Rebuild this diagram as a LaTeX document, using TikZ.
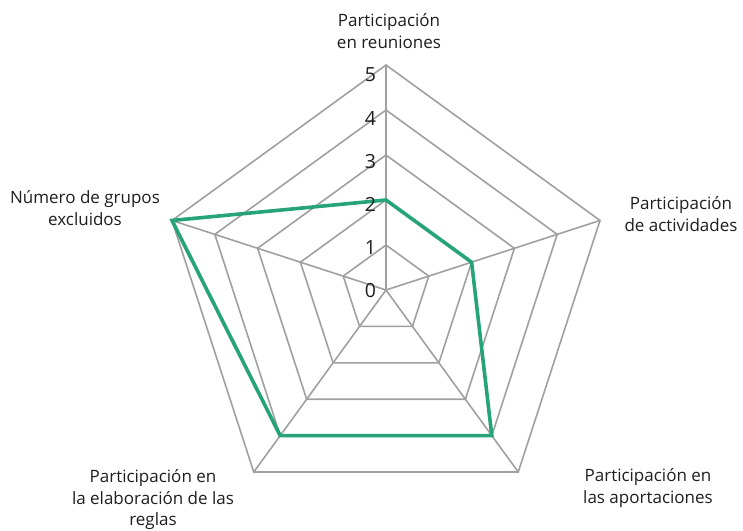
\documentclass[tikz,border=0pt]{standalone}
\usepackage{fontspec}
\setmainfont{Open Sans}
\usetikzlibrary{calc}
\definecolor{gridgray}{HTML}{A0A0A0}
\definecolor{radgreen}{HTML}{26A477}
\definecolor{txt}{HTML}{1E1E1E}
\begin{document}
\begin{tikzpicture}[x=1pt,y=-1pt,
  grid/.style={draw=gridgray,line width=1.6pt},
  series/.style={draw=radgreen,line width=3.6pt,line join=miter},
  axlabel/.style={text=txt,font=\fontsize{17}{21.5}\selectfont,align=center,inner sep=0pt},
  tick/.style={text=txt,font=\fontsize{19.5}{20}\selectfont,inner sep=0pt}]
\useasboundingbox (0,0) rectangle (743,530);
\coordinate (O) at (386,290);
% rings (angles negated because the y axis points down)
\foreach \k in {1,...,5}{
  \draw[grid] ($(O)+(-90:45*\k)$) \foreach \a in {-18,54,126,198}{ -- ($(O)+(\a:45*\k)$)} -- cycle;
}
\foreach \a [count=\i] in {-90,-18,54,126,198}{
  \coordinate (v\i) at ($(O)+(\a:225)$);
  \draw[grid] (O) -- (v\i);
}
% series
\coordinate (d1) at ($(O)+(-90:90)$);
\coordinate (d2) at ($(O)+(-18:90)$);
\coordinate (d3) at ($(O)+(54:180)$);
\coordinate (d4) at ($(O)+(126:180)$);
\coordinate (d5) at ($(O)+(198:225)$);
\draw[series] (d1) -- (d2) -- (d3) -- (d4) -- (d5) -- cycle;
% ticks
\foreach \k in {0,...,5}{
  \node[tick] (t\k) at (370.5,{291-43.2*\k}) {\k};
}
% labels
\node[axlabel] (l1) at (389,31) {Participación\\en reuniones};
\node[axlabel] (l2) at (681,214) {Participación\\de actividades};
\node[axlabel] (l3) at (648,488) {Participación en\\las aportaciones};
\node[axlabel] (l4) at (153,500) {Participación en\\la elaboración de las\\reglas};
\node[axlabel] (l5) at (85,208) {Número de grupos\\excluidos};
\end{tikzpicture}
\end{document}
